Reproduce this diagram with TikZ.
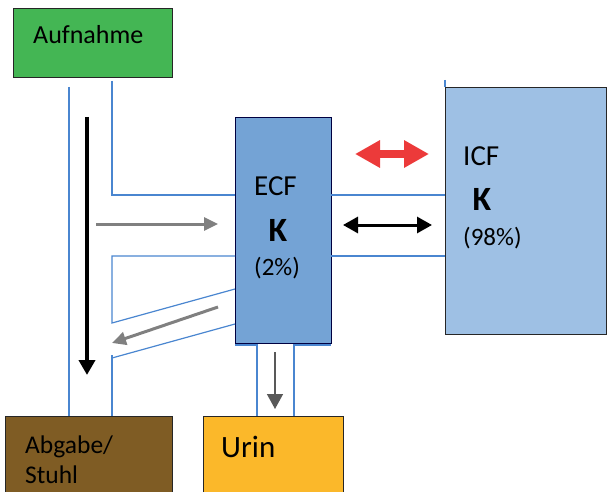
\documentclass[tikz,border=0pt]{standalone}
\usepackage{fontspec}
\setmainfont{Carlito}
\usetikzlibrary{arrows.meta}

\definecolor{intake}{RGB}{68,182,84}
\definecolor{ecfblue}{RGB}{116,163,213}
\definecolor{icfblue}{RGB}{158,192,228}
\definecolor{urine}{RGB}{251,184,42}
\definecolor{stool}{RGB}{127,92,36}
\definecolor{wall}{RGB}{74,134,208}
\definecolor{flowgray}{RGB}{128,128,128}
\definecolor{flowdark}{RGB}{89,89,89}
\definecolor{exchred}{RGB}{236,58,58}

\begin{document}
\begin{tikzpicture}[x=1pt,y=-1pt,
    box/.style={draw=black!85, line width=1.4pt, inner sep=0pt, anchor=north west},
    channel/.style={draw=wall, line width=1.2pt},
    lbl/.style={anchor=base west, inner sep=0pt}]
    \clip (0,0) rectangle (608,492);

    % compartments
    \node[box, fill=intake, minimum width=159pt, minimum height=69pt] (aufnahme) at (13,8) {};
    \node[box, fill=ecfblue, draw=black!75!blue, minimum width=96pt, minimum height=226pt] (ecf) at (235,117) {};
    \node[box, fill=icfblue, minimum width=161pt, minimum height=247pt] (icf) at (445,87) {};
    \node[box, fill=urine, minimum width=140pt, minimum height=100pt] (urin) at (203,416) {};
    \node[box, fill=stool, minimum width=167pt, minimum height=100pt] (abgabe) at (5,416) {};

    % labels
    \node[lbl, font=\fontsize{26}{31}\selectfont] (aufnahmetxt) at (33,44) {Aufnahme};
    \node[lbl, font=\fontsize{29}{34}\selectfont] (ecftxt) at (254,196) {ECF};
    \node[lbl, font=\fontsize{34}{40}\selectfont\bfseries] (ecfk) at (268.5,241) {K};
    \node[lbl, font=\fontsize{25}{30}\selectfont] (ecfpct) at (254,275) {(2\%)};
    \node[lbl, font=\fontsize{29}{34}\selectfont] (icftxt) at (463,166) {ICF};
    \node[lbl, font=\fontsize{34}{40}\selectfont\bfseries] (icfk) at (472.5,211) {K};
    \node[lbl, font=\fontsize{25}{30}\selectfont] (icfpct) at (463,245) {(98\%)};
    \node[lbl, font=\fontsize{31}{36}\selectfont] (urintxt) at (221,457) {Urin};
    \node[lbl, font=\fontsize{25.5}{30}\selectfont] (abgabetxt) at (25,453) {Abgabe/};
    \node[lbl, font=\fontsize{25.5}{30}\selectfont] (stuhltxt) at (25,483) {Stuhl};

    % channel walls
    \draw[channel] (69,87) -- (69,416);
    \draw[channel] (112,81) -- (112,195) -- (235,195);
    \draw[channel] (331,195) -- (445,195);
    \draw[channel] (331,256) -- (445,256);
    \draw[channel] (235,256) -- (112,256) -- (112,323) -- (235,289);
    \draw[channel] (235,324) -- (112,358);
    \draw[channel] (112,355) -- (112,416);
    \draw[channel] (235,345) -- (257,345) -- (257,416);
    \draw[channel] (331,345) -- (294,345) -- (294,416);
    \draw[channel] (445,80) -- (445,87);

    % flow ends
    \coordinate (bowtop) at (87,117);
    \coordinate (bowend) at (87,375);
    \coordinate (inflow) at (96,224);
    \coordinate (inend) at (218,224);
    \coordinate (outflow) at (218,307);
    \coordinate (outend) at (112,343);
    \coordinate (renal) at (275,352);
    \coordinate (renalend) at (275,409);
    \coordinate (exl) at (343,225);
    \coordinate (exr) at (432,225);
    \coordinate (shiftl) at (355,154);
    \coordinate (shiftr) at (429,154);

    % flows
    \draw[line width=4pt, -{Triangle[length=15pt,width=16pt]}] (bowtop) -- (bowend);
    \draw[flowgray, line width=3pt, -{Triangle[length=14pt,width=13pt]}] (inflow) -- (inend);
    \draw[flowgray, line width=3pt, -{Triangle[length=14pt,width=13pt]}] (outflow) -- (outend);
    \draw[flowdark, line width=1.5pt, -{Triangle[length=15pt,width=16pt]}] (renal) -- (renalend);
    \draw[line width=3pt, {Triangle[length=15pt,width=16pt]}-{Triangle[length=15pt,width=16pt]}] (exl) -- (exr);
    \draw[exchred, line width=8pt, {Triangle[length=25pt,width=26pt]}-{Triangle[length=25pt,width=26pt]}] (shiftl) -- (shiftr);
\end{tikzpicture}
\end{document}
